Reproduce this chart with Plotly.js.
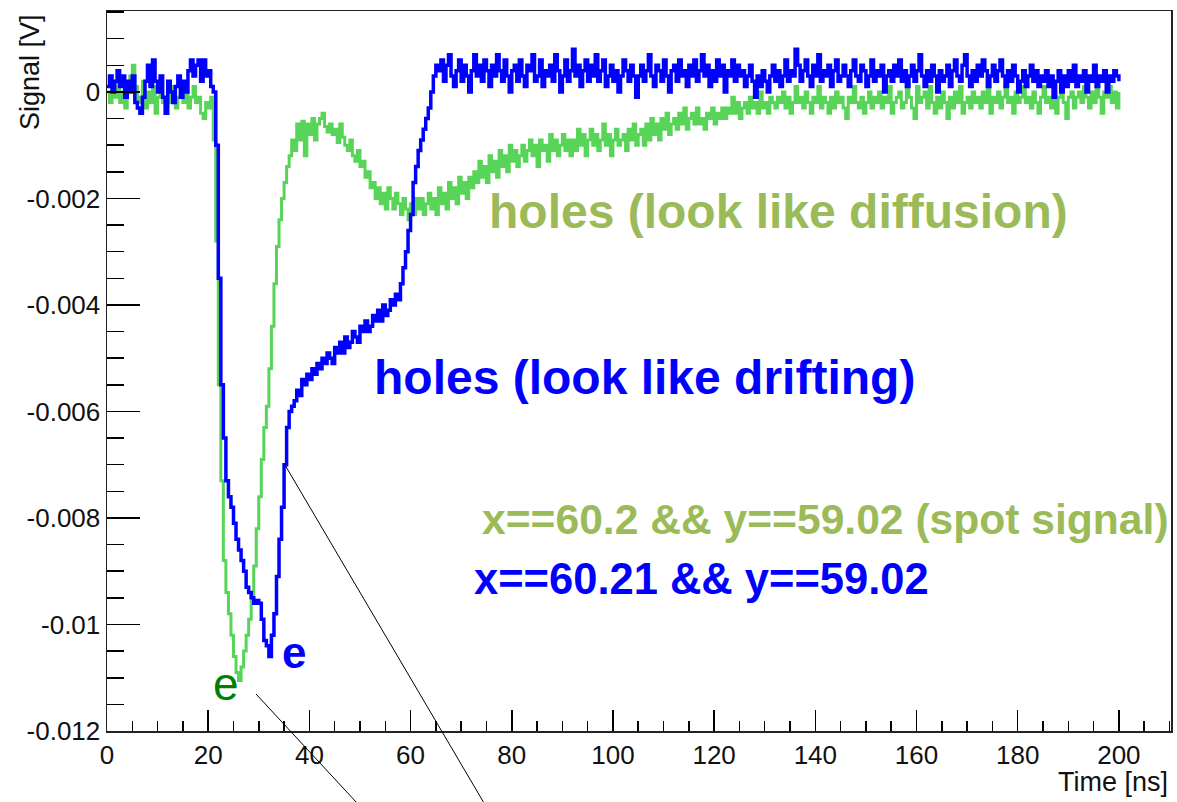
<!DOCTYPE html>
<html>
<head>
<meta charset="utf-8">
<script src="https://cdn.plot.ly/plotly-3.0.1.min.js"></script>
<style>html,body{margin:0;padding:0;background:#fff;}#chart{width:1177px;height:802px;}</style>
</head>
<body>
<div id="chart"></div>
<script>
// Sampling step in ns
const stepNs = 0.5;

// ---- Green trace: x==60.2 && y==59.02 (spot signal), values in mV ----
const greenStartA = 0;
const greenA = [0.0,-0.2,0.1,-0.1,0.2,-0.2,0.0,-0.3,0.1,0.3,0.5,0.1,-0.2,-0.1,0.2,-0.3,0.0,-0.2,0.1,-0.4,
  -0.1,0.2,-0.2,-0.3,0.0,-0.2,0.1,-0.3,-0.1,0.1,-0.2,0.0,-0.3,-0.1,0.1,-0.2,-0.1,-0.4,-0.5,-0.2,-0.3,-0.1,-0.9];
const greenStartB = 21.5;
const greenB = [-2.8,-5.5,-7.3,-8.8,-9.4,-9.8,-10.2,-10.6,-10.9,-11.05,-10.8,-10.5,-10.2,-9.9,-9.5,-8.9,-8.2,-7.6,-6.9,-6.3,
  -5.9,-5.2,-4.4,-3.6,-2.9,-2.4,-2.0,-1.7,-1.4,-1.2,-0.9,-1.1,-0.6,-0.9,-0.55,-1.2,-0.6,-0.8,-0.5,-0.9,
  -0.6,-0.5,-0.4,-0.65,-0.75,-0.6,-0.8,-0.7,-0.95,-0.6,-0.85,-1.0,-1.1,-0.9,-1.2,-1.3,-1.1,-1.4,-1.3,-1.6,
  -1.5,-1.8,-1.7,-2.0,-1.8,-2.1,-1.9,-2.2,-1.8,-2.0,-2.2,-1.9,-2.1,-2.3,-2.0,-2.2,-2.4,-2.1,-2.3,-2.0,-2.2];
const greenStartC = 62;
const greenC = [-2.0,-2.3,-2.1,-1.9,-2.2,-2.0,-2.3,-1.8,-2.1,-1.9,-2.2,-1.7,-2.0,-1.8,-2.1,-1.6,-1.9,-1.7,-2.0,-1.6,
  -1.8,-1.5,-1.7,-1.3,-1.6,-1.4,-1.7,-1.2,-1.5,-1.3,-1.6,-1.1,-1.4,-1.2,-1.5,-1.0,-1.3,-1.1,-1.4,-1.2,
  -1.0,-1.3,-1.1,-0.9,-1.2,-1.0,-1.4,-0.9,-1.1,-1.0,-1.3,-0.8,-1.1,-0.9,-1.2,-1.0,-0.8,-1.1,-0.9,-1.2,
  -0.9,-1.1,-0.7,-1.0,-0.8,-1.2,-0.9,-0.7,-1.0,-0.8,-1.1,-0.9,-0.6,-1.0,-0.8,-1.2,-0.9,-0.7,-1.0,-0.9,
  -0.8,-1.1,-0.7,-0.9,-0.6,-1.0,-0.8,-0.7,-1.0,-0.6,-0.9,-0.5,-0.8,-0.6,-0.9,-0.5,-0.7,-0.4,-0.8,-0.6,
  -0.5,-0.7,-0.4,-0.6,-0.3,-0.7,-0.5,-0.4,-0.6,-0.3,-0.6,-0.5,-0.7,-0.4,-0.5,-0.3,-0.6,-0.4,-0.5,-0.3,
  -0.5,-0.3,-0.4,-0.1,-0.4,-0.2,-0.5,-0.3,-0.2,-0.4,-0.1,-0.3,-0.2,-0.4,0.0,-0.3,-0.2,-0.4,-0.1,-0.2,
  -0.3,-0.1,-0.2,0.0,-0.3,-0.1,-0.4,-0.2,0.1,-0.2,-0.1,-0.3,0.0,-0.2,-0.4,-0.1,-0.2,0.1,-0.3,-0.1,
  -0.2,-0.4,-0.1,-0.3,0.0,-0.2,-0.1,-0.3,-0.5,-0.1,-0.2,0.1,-0.2,-0.3,-0.1,-0.4,-0.2,0.0,-0.3,-0.1,
  -0.2,0.0,-0.3,-0.1,-0.2,0.1,-0.4,-0.2,-0.1,0.0,-0.3,-0.2,0.2,-0.1,-0.3,-0.5,0.1,-0.2,-0.1,0.0,
  -0.3,0.1,-0.2,-0.4,-0.1,-0.3,0.0,-0.2,-0.5,-0.1,-0.3,0.0,-0.2,0.1,-0.4,-0.2,-0.1,-0.3,0.0,-0.2,
  -0.1,-0.3,0.0,-0.2,0.1,-0.4,-0.1,-0.2,0.0,-0.3,-0.1,0.1,-0.2,-0.1,-0.4,0.0,-0.2,-0.1,0.1,-0.2,
  -0.1,-0.3,0.0,-0.2,-0.4,-0.1,0.1,-0.2,-0.1,-0.3,0.0,-0.4,-0.1,0.0,-0.2,-0.5,-0.1,0.0,-0.3,-0.1,
  0.0,-0.2,0.1,-0.1,-0.3,0.0,-0.2,0.1,-0.1,-0.4,0.0,-0.1,0.1,-0.2,0.0,-0.3,0.0];

// ---- Blue trace: x==60.21 && y==59.02, values in mV ----
const blueStartA = 0;
const blueA = [0.1,0.3,0.0,0.2,0.4,0.1,0.3,-0.1,0.2,0.0,0.3,-0.2,-0.3,-0.4,-0.1,0.2,0.5,0.1,0.6,0.2,
  0.0,0.3,-0.1,-0.4,0.2,0.0,-0.2,0.1,0.3,-0.1,0.2,0.0,0.4,0.6,0.3,0.5,0.6,0.2,0.6,0.3,0.4,0.1,0.0];
const blueStartB = 21.5;
const blueB = [-1.0,-3.5,-5.5,-6.5,-7.3,-7.6,-7.8,-8.1,-8.4,-8.6,-8.8,-9.0,-9.3,-9.4,-9.5,-9.6,-9.55,-9.6,-9.9,-10.3,
  -10.4,-10.6,-10.2,-9.8,-9.1,-8.4,-7.8,-7.0,-6.3,-6.0,-5.9,-5.8,-5.6,-5.7,-5.4,-5.5,-5.3,-5.4,-5.2,-5.3,
  -5.1,-5.2,-5.0,-5.1,-4.9,-5.0,-5.1,-4.8,-4.9,-4.7,-4.9,-4.6,-4.8,-4.7,-4.5,-4.6,-4.7,-4.4,-4.5,-4.3,
  -4.5,-4.4,-4.2,-4.3,-4.1,-4.3,-4.0,-4.2,-4.1,-3.9,-4.0,-3.8,-3.9,-3.6,-3.3,-3.0,-2.6,-2.3,-1.7,-1.4,
  -1.1,-0.9,-0.7,-0.5,-0.3,0.0,0.3,0.5];
const blueStartC = 65.5;
const blueC = [0.4,0.6,0.2,0.5,0.7,0.3,0.1,0.4,0.6,0.2,0.5,0.3,0.0,0.4,0.7,0.3,0.5,0.2,0.6,0.4,
  0.1,0.5,0.3,0.7,0.4,0.2,0.6,0.3,0.0,0.4,0.5,0.2,0.6,0.3,0.1,0.5,0.4,0.7,0.2,0.3,
  0.6,0.1,0.4,0.3,0.5,0.2,0.7,0.4,0.0,0.3,0.6,0.2,0.4,0.8,0.3,0.5,0.1,0.4,0.6,0.2,
  0.5,0.3,0.7,0.2,0.4,0.6,0.1,0.3,0.5,0.2,0.4,0.0,0.3,0.6,0.4,0.2,0.5,0.3,-0.1,0.3,
  0.5,0.2,0.4,0.7,0.3,0.1,0.5,0.4,0.2,0.6,0.3,0.0,0.4,0.5,0.2,0.6,0.3,0.4,0.1,0.5,
  0.3,0.6,0.2,0.4,0.7,0.3,0.5,0.1,0.4,0.2,0.6,0.3,0.5,0.0,0.4,0.3,0.6,0.2,0.5,0.3,
  0.4,0.1,0.3,0.5,0.2,-0.1,0.3,0.1,0.4,0.2,0.0,0.3,0.5,0.2,0.4,0.1,0.3,0.6,0.2,0.4,
  0.3,0.8,0.5,0.2,0.4,0.6,0.3,0.1,0.5,0.3,0.7,0.2,0.4,0.3,0.5,0.1,0.4,0.6,0.2,0.3,
  0.5,0.3,0.1,0.4,0.6,0.3,0.2,0.5,0.4,0.1,0.3,0.6,0.2,0.4,0.3,0.5,0.0,0.3,0.4,0.2,
  0.5,0.3,0.6,0.2,0.4,0.1,0.3,0.5,0.2,0.4,0.7,0.3,0.1,0.4,0.2,0.5,0.3,0.0,0.4,0.2,
  0.3,0.5,0.1,0.4,0.6,0.3,0.2,0.5,0.7,0.3,0.1,0.4,0.2,0.5,0.3,0.6,0.4,0.1,0.3,0.5,
  0.2,0.4,0.6,0.3,0.1,0.4,0.2,0.5,0.3,0.0,0.2,0.4,0.1,0.3,0.5,0.2,0.4,0.1,0.3,0.2,
  0.4,0.1,0.3,-0.1,0.2,0.4,0.0,0.3,0.1,0.4,0.2,0.5,0.1,0.3,0.2,0.4,0.0,0.3,0.2,0.5,
  0.1,0.3,0.2,0.4,0.0,0.3,0.2,0.4,0.3,0.2];

// ---- Axis ticks ----
const xTickVals = [0,20,40,60,80,100,120,140,160,180,200];
const xTickLabels = ["0","20","40","60","80","100","120","140","160","180","200"];
const yTickVals = [0,-0.002,-0.004,-0.006,-0.008,-0.01,-0.012];
const yTickLabels = ["0","-0.002","-0.004","-0.006","-0.008","-0.01","-0.012"];
const xRange = [0, 210.3];
const yRange = [-0.012, 0.00152];

// ---- Texts ----
const xTitle = "Time [ns]";
const yTitle = "Signal [V]";
const greenLabel = "x==60.2 && y==59.02 (spot signal)";
const blueLabel = "x==60.21 && y==59.02";
const greenNote = "holes (look like diffusion)";
const blueNote = "holes (look like drifting)";

function segment(start, vals) {
  return {
    t: vals.map((_, i) => start + i * stepNs),
    v: vals.map(mv => mv / 1000)
  };
}
function joinSegs(segs) {
  const t = [], v = [];
  segs.forEach(s => { t.push(...s.t); v.push(...s.v); });
  return {t, v};
}
const green = joinSegs([segment(greenStartA, greenA), segment(greenStartB, greenB), segment(greenStartC, greenC)]);
const blue = joinSegs([segment(blueStartA, blueA), segment(blueStartB, blueB), segment(blueStartC, blueC)]);

const FONT = "Liberation Sans, Arial, Helvetica, sans-serif";

const traces = [
  {x: green.t, y: green.v, type: 'scatter', mode: 'lines', name: greenLabel,
   line: {color: '#58d558', width: 3, shape: 'hv'}},
  {x: blue.t, y: blue.v, type: 'scatter', mode: 'lines', name: blueLabel,
   line: {color: '#0000ff', width: 3.5, shape: 'hv'}}
];

const L = 107, R = 1171, T = 11, B = 731;
const W = R - L, H = B - T;
function px(x) { return (x - L) / W; }
function py(y) { return (B - y) / H; }

const layout = {
  width: 1177, height: 802,
  margin: {l: L, r: 1177 - R, t: T, b: 802 - B, pad: 0},
  paper_bgcolor: '#fff', plot_bgcolor: '#fff',
  showlegend: false,
  font: {family: FONT, color: '#000', size: 26},
  xaxis: {
    range: xRange, tickmode: 'array', tickvals: xTickVals, ticktext: xTickLabels,
    ticks: 'inside', ticklen: 21, tickwidth: 1.5, tickcolor: '#000',
    minor: {dtick: 5, tick0: 0, ticks: 'inside', ticklen: 10, tickwidth: 1.5, tickcolor: '#000', showgrid: false},
    showline: true, mirror: true, linecolor: '#222', linewidth: 1.5,
    showgrid: false, zeroline: false,
    tickfont: {family: FONT, size: 26, color: '#111'}
  },
  yaxis: {
    range: yRange, tickmode: 'array', tickvals: yTickVals, ticktext: yTickLabels,
    ticks: 'inside', ticklen: 33, tickwidth: 1.5, tickcolor: '#000',
    minor: {dtick: 0.0005, tick0: 0, ticks: 'inside', ticklen: 17, tickwidth: 1.5, tickcolor: '#000', showgrid: false},
    showline: true, mirror: true, linecolor: '#222', linewidth: 1.5,
    showgrid: false, zeroline: false,
    tickfont: {family: FONT, size: 26, color: '#111'}
  },
  annotations: [
    {xref: 'paper', yref: 'paper', x: px(1170), y: py(782), xanchor: 'right', yanchor: 'middle',
     text: xTitle, showarrow: false, font: {family: FONT, size: 27, color: '#111'}},
    {xref: 'paper', yref: 'paper', x: px(30), y: py(12), xanchor: 'center', yanchor: 'top', textangle: -90,
     text: yTitle, showarrow: false, font: {family: FONT, size: 27, color: '#111'}},
    {xref: 'paper', yref: 'paper', x: px(487), y: py(211), xanchor: 'left', yanchor: 'middle',
     text: '<b>' + greenNote + '</b>', showarrow: false, font: {family: FONT, size: 48, color: '#9bbb59'}},
    {xref: 'paper', yref: 'paper', x: px(372), y: py(377), xanchor: 'left', yanchor: 'middle',
     text: '<b>' + blueNote + '</b>', showarrow: false, font: {family: FONT, size: 48, color: '#0000ff'}},
    {xref: 'paper', yref: 'paper', x: px(480), y: py(519), xanchor: 'left', yanchor: 'middle',
     text: '<b>' + greenLabel + '</b>', showarrow: false, font: {family: FONT, size: 42.6, color: '#9bbb59'}},
    {xref: 'paper', yref: 'paper', x: px(472), y: py(579), xanchor: 'left', yanchor: 'middle',
     text: '<b>' + blueLabel + '</b>', showarrow: false, font: {family: FONT, size: 43.5, color: '#0000ff'}},
    {xref: 'paper', yref: 'paper', x: px(294), y: py(652), xanchor: 'center', yanchor: 'middle',
     text: '<b>e</b>', showarrow: false, font: {family: FONT, size: 44, color: '#0000ff'}},
    {xref: 'paper', yref: 'paper', x: px(226), y: py(684), xanchor: 'center', yanchor: 'middle',
     text: 'e', showarrow: false, font: {family: FONT, size: 46, color: '#008000'}}
  ],
  shapes: [
    {type: 'line', xref: 'paper', yref: 'paper', x0: px(285), y0: py(465), x1: px(484), y1: py(803),
     line: {color: '#000', width: 1}},
    {type: 'line', xref: 'paper', yref: 'paper', x0: px(256), y0: py(694), x1: px(357), y1: py(803),
     line: {color: '#000', width: 1}}
  ]
};

Plotly.newPlot('chart', traces, layout, {displayModeBar: false, staticPlot: true});
</script>
</body>
</html>
